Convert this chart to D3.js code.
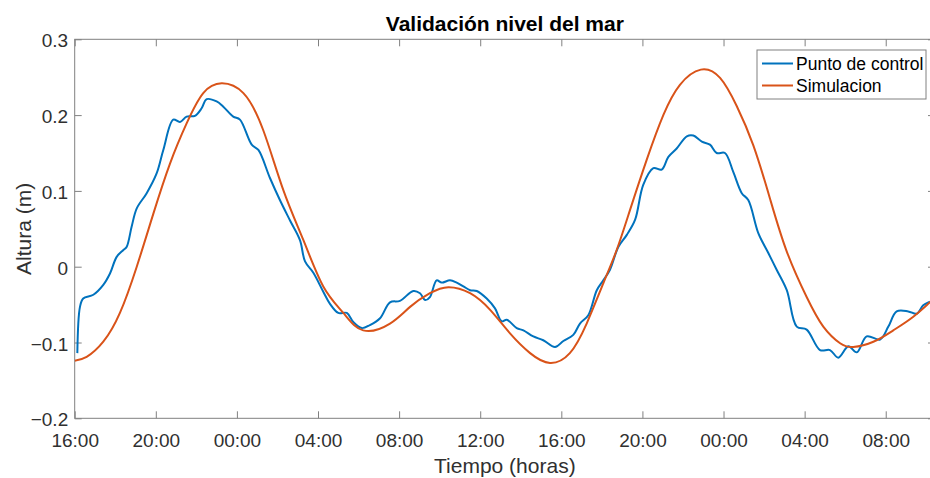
<!DOCTYPE html>
<html>
<head>
<meta charset="utf-8">
<script src="https://cdn.jsdelivr.net/npm/d3@7"></script>
<style>
  body { margin: 0; background: #fff; }
  svg { display: block; font-family: "Liberation Sans", Arial, sans-serif; }
</style>
</head>
<body>
<svg id="chart"></svg>
<script>
// hours since 16:00 of the first day, and sea level (m)
const obsHours = [0.13, 0.26, 0.42, 0.92, 1.41, 1.74, 2.07, 2.40, 2.56, 2.81, 3.06, 3.55, 4.04, 4.37, 4.86,
  5.19, 5.52, 5.93, 6.26, 6.51, 7.00, 7.33, 7.82, 8.15, 8.73, 9.06, 9.63, 10.12, 10.62, 11.11, 11.36,
  11.77, 12.26, 12.59, 13.00, 13.42, 13.74, 14.16, 14.56, 15.06, 15.55, 16.04, 16.70, 17.03, 17.28,
  17.52, 17.85, 18.10, 18.51, 18.84, 19.17, 19.50, 19.83, 20.32, 20.73, 21.06, 21.31, 21.80, 22.13,
  22.62, 23.11, 23.69, 24.10, 24.59, 24.92, 25.33, 25.75, 26.07, 26.40, 26.81, 27.23, 27.64, 28.04,
  28.54, 28.95, 29.28, 29.69, 30.19, 30.51, 30.93, 31.33, 31.66, 32.07, 32.48, 32.90, 33.22, 33.72,
  34.21, 34.62, 35.12, 35.61, 36.10, 36.76, 37.25, 37.66, 38.16, 38.57, 39.06, 39.72, 40.13, 40.54,
  41.11, 41.53, 41.85, 42.18];
const obsLevel = [-0.114, -0.053, -0.042, -0.037, -0.024, -0.009, 0.013, 0.022, 0.026, 0.053, 0.077,
  0.097, 0.123, 0.154, 0.194, 0.191, 0.198, 0.199, 0.209, 0.221, 0.218, 0.211, 0.198, 0.194, 0.161,
  0.154, 0.117, 0.088, 0.061, 0.035, 0.007, -0.008, -0.033, -0.049, -0.061, -0.061, -0.073, -0.081,
  -0.077, -0.068, -0.047, -0.045, -0.032, -0.035, -0.044, -0.040, -0.018, -0.021, -0.018, -0.021,
  -0.026, -0.031, -0.032, -0.042, -0.055, -0.072, -0.070, -0.081, -0.084, -0.092, -0.097, -0.106,
  -0.098, -0.090, -0.075, -0.064, -0.031, -0.018, -0.004, 0.026, 0.042, 0.062, 0.108, 0.130, 0.128,
  0.145, 0.156, 0.172, 0.173, 0.165, 0.161, 0.150, 0.150, 0.125, 0.097, 0.088, 0.044, 0.018, -0.004,
  -0.031, -0.079, -0.083, -0.110, -0.110, -0.120, -0.105, -0.113, -0.092, -0.096, -0.079, -0.059,
  -0.059, -0.062, -0.051, -0.046];

const simHours = [0, 0.59, 1.41, 2.23, 3.06, 3.88, 4.70, 5.52, 6.34, 7.25, 8.32, 9.30, 10.29, 11.28,
  12.26, 13.25, 14.23, 15.55, 16.54, 17.52, 18.43, 19.50, 20.49, 21.47, 22.46, 23.44, 24.42, 25.25,
  26.07, 26.73, 27.39, 28.21, 29.03, 29.85, 30.88, 31.83, 32.65, 33.47, 34.29, 35.12, 36.10, 36.92,
  37.75, 38.40, 39.39, 40.37, 41.36, 42.18, 42.43];
const simLevel = [-0.124, -0.119, -0.099, -0.061, 0.000, 0.070, 0.136, 0.189, 0.229, 0.242, 0.229,
  0.180, 0.101, 0.035, -0.026, -0.061, -0.084, -0.075, -0.053, -0.035, -0.027, -0.035, -0.057,
  -0.088, -0.114, -0.127, -0.114, -0.075, -0.022, 0.022, 0.075, 0.141, 0.200, 0.240, 0.260, 0.249,
  0.212, 0.160, 0.090, 0.020, -0.040, -0.079, -0.101, -0.106, -0.099, -0.084, -0.066, -0.047, -0.042];

const yTicks = [-0.2, -0.1, 0, 0.1, 0.2, 0.3];
const seriesNames = ["Punto de control", "Simulacion"];
const seriesColors = ["#0072BD", "#D95319"];
const startTime = new Date(2020, 0, 1, 16, 0);
const spanHours = 42.43;

const W = 930, H = 478;
const margin = { top: 39.3, right: -5, bottom: 59.7, left: 74.7 };
const axisColor = "#808080", textColor = "#303030";

const svg = d3.select("#chart").attr("width", W).attr("height", H);

const toDate = (h) => new Date(startTime.getTime() + h * 3600e3);

const x = d3.scaleTime()
  .domain([startTime, toDate(spanHours)])
  .range([margin.left, W - margin.right]);

const y = d3.scaleLinear()
  .domain([-0.2, 0.3])
  .range([H - margin.bottom, margin.top]);

const hourTicks = d3.timeHour.every(4);

// axes, MATLAB style: ticks inside the box
const styleAxis = (g) => {
  g.select(".domain").remove();
  g.selectAll(".tick line").attr("stroke", axisColor);
  g.selectAll(".tick text").attr("fill", textColor).style("font-size", "19px");
};

svg.append("g")
  .attr("transform", `translate(0,${H - margin.bottom})`)
  .call(d3.axisBottom(x).ticks(hourTicks).tickFormat(d3.timeFormat("%H:%M"))
    .tickSizeInner(-7).tickSizeOuter(0).tickPadding(6))
  .call(styleAxis)
  .call((g) => g.selectAll(".tick text").attr("y", 0).attr("dy", "1.5em"));

svg.append("g")
  .attr("transform", `translate(0,${margin.top})`)
  .call(d3.axisTop(x).ticks(hourTicks).tickFormat("").tickSizeInner(-7).tickSizeOuter(0))
  .call(styleAxis);

svg.append("g")
  .attr("transform", `translate(${margin.left},0)`)
  .call(d3.axisLeft(y).tickValues(yTicks).tickFormat(d3.format("~g"))
    .tickSizeInner(-7).tickSizeOuter(0).tickPadding(6))
  .call(styleAxis)
  .call((g) => g.selectAll(".tick text").attr("x", -6.5).attr("dy", "0.4em"));

svg.append("g")
  .attr("transform", `translate(${W - margin.right},0)`)
  .call(d3.axisRight(y).tickValues(yTicks).tickFormat("").tickSizeInner(-7).tickSizeOuter(0))
  .call(styleAxis);

svg.append("rect")
  .attr("x", margin.left)
  .attr("y", margin.top)
  .attr("width", W - margin.right - margin.left)
  .attr("height", H - margin.bottom - margin.top)
  .attr("fill", "none")
  .attr("stroke", axisColor)
  .attr("stroke-width", 1);

// lines
const obsLine = d3.line()
  .x((d) => x(toDate(d[0])))
  .y((d) => y(d[1]))
  .curve(d3.curveCatmullRom.alpha(0.5));

const simLine = d3.line()
  .x((d) => x(toDate(d[0])))
  .y((d) => y(d[1]))
  .curve(d3.curveNatural);

svg.append("clipPath").attr("id", "plotClip")
  .append("rect")
  .attr("x", margin.left).attr("y", margin.top)
  .attr("width", W - margin.right - margin.left)
  .attr("height", H - margin.bottom - margin.top);

const plot = svg.append("g").attr("clip-path", "url(#plotClip)");

plot.append("path")
  .datum(obsHours.map((h, i) => [h, obsLevel[i]]))
  .attr("d", obsLine)
  .attr("fill", "none")
  .attr("stroke", seriesColors[0])
  .attr("stroke-width", 2)
  .attr("stroke-linejoin", "round");

plot.append("path")
  .datum(simHours.map((h, i) => [h, simLevel[i]]))
  .attr("d", simLine)
  .attr("fill", "none")
  .attr("stroke", seriesColors[1])
  .attr("stroke-width", 2)
  .attr("stroke-linejoin", "round");

// title and labels
const midX = (margin.left + W - margin.right) / 2;

svg.append("text")
  .attr("x", midX)
  .attr("y", 31)
  .attr("text-anchor", "middle")
  .attr("fill", "#000")
  .style("font-size", "21px")
  .style("font-weight", "bold")
  .text("Validación nivel del mar");

svg.append("text")
  .attr("x", midX)
  .attr("y", 473)
  .attr("text-anchor", "middle")
  .attr("fill", textColor)
  .style("font-size", "21px")
  .text("Tiempo (horas)");

svg.append("text")
  .attr("transform", `translate(31,${(margin.top + H - margin.bottom) / 2}) rotate(-90)`)
  .attr("text-anchor", "middle")
  .attr("fill", textColor)
  .style("font-size", "21px")
  .text("Altura (m)");

// legend
const legend = svg.append("g").attr("transform", "translate(757,50)");

legend.append("rect")
  .attr("width", 169)
  .attr("height", 49)
  .attr("fill", "#fff")
  .attr("stroke", axisColor)
  .attr("stroke-width", 1);

seriesNames.forEach((name, i) => {
  const row = legend.append("g").attr("transform", `translate(0,${13.5 + i * 22})`);
  row.append("line")
    .attr("x1", 5).attr("x2", 36)
    .attr("stroke", seriesColors[i])
    .attr("stroke-width", 2);
  row.append("text")
    .attr("x", 39)
    .attr("dy", "0.36em")
    .attr("fill", "#000")
    .style("font-size", "17.5px")
    .text(name);
});
</script>
</body>
</html>
